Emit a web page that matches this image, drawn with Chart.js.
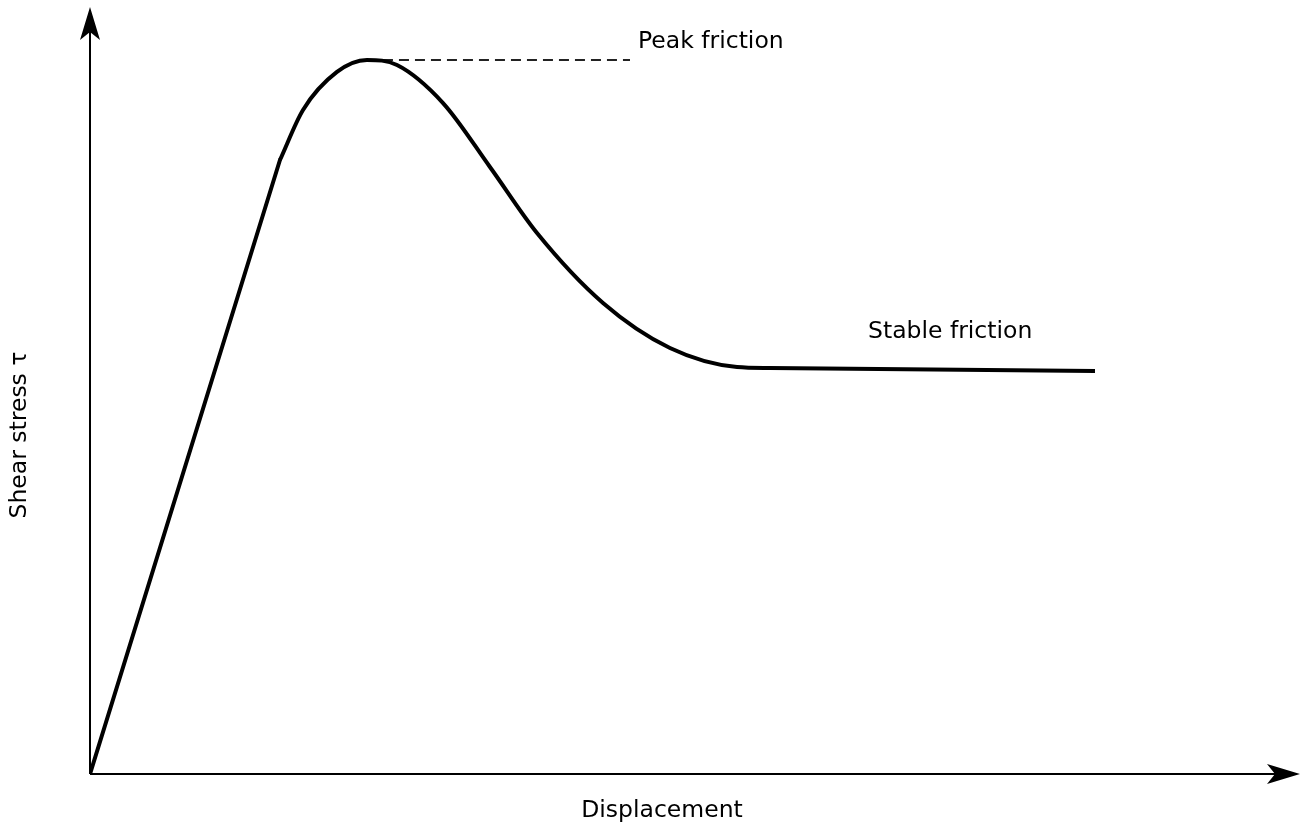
<!DOCTYPE html>
<html>
<head>
<meta charset="utf-8">
<script src="https://cdn.jsdelivr.net/npm/chart.js@4"></script>
<style>
  html, body { margin: 0; padding: 0; background: #fff; }
  #wrap { width: 1309px; height: 830px; position: relative; }
</style>
</head>
<body>
<div id="wrap"><canvas id="myChart"></canvas></div>
<script>
const ctx = document.getElementById("myChart").getContext("2d");

// elastic rise (straight part)
const riseX = [0, 15.83];
const riseY = [0, 80.05];

// peak and decay to stable friction
const curveX = [15.83, 17.75, 20.58, 23.08, 25.58, 29.42, 33.33, 37.25, 42.75, 48.33, 53.92, 56.67, 83.75];
const curveY = [80.05, 86.57, 91.53, 93.09, 92.44, 87.48, 79.14, 70.53, 61.41, 55.54, 53.06, 52.93, 52.54];

// dashed peak level
const peakX = [23.08, 45];
const peakY = [93.09, 93.09];

const xTitle = "Displacement";
const yTitle = "Shear stress τ";
const peakLabel = "Peak friction";
const stableLabel = "Stable friction";

const toPoints = (xs, ys) => xs.map((x, i) => ({ x: x, y: ys[i] }));

const FONT = "23.5px 'DejaVu Sans'";

// axes with arrow heads + text labels
const sketchPlugin = {
    id: "sketch",
    beforeDatasetsDraw(chart) {
        const c = chart.ctx;
        const x = chart.scales.x, y = chart.scales.y;
        const ox = x.getPixelForValue(0), oy = y.getPixelForValue(0);
        const tipX = chart.chartArea.right + 10;
        const tipY = chart.chartArea.top;
        c.save();
        c.strokeStyle = "#000";
        c.fillStyle = "#000";
        c.lineWidth = 2;
        c.beginPath();
        c.moveTo(ox, oy);
        c.lineTo(tipX - 20, oy);
        c.moveTo(ox, oy);
        c.lineTo(ox, tipY + 20);
        c.stroke();
        // x arrow
        c.beginPath();
        c.moveTo(tipX, oy);
        c.lineTo(tipX - 33, oy - 10);
        c.lineTo(tipX - 25, oy);
        c.lineTo(tipX - 33, oy + 10);
        c.closePath();
        c.fill();
        // y arrow
        c.beginPath();
        c.moveTo(ox, tipY);
        c.lineTo(ox - 10, tipY + 33);
        c.lineTo(ox, tipY + 25);
        c.lineTo(ox + 10, tipY + 33);
        c.closePath();
        c.fill();
        c.restore();
    },
    afterDraw(chart) {
        const c = chart.ctx;
        const x = chart.scales.x, y = chart.scales.y;
        c.save();
        c.fillStyle = "#000";
        c.font = FONT;
        c.textBaseline = "alphabetic";
        c.textAlign = "left";
        c.fillText(peakLabel, x.getPixelForValue(peakX[1]) + 8, y.getPixelForValue(peakY[1]) - 12);
        c.fillText(stableLabel, 868, 338);
        c.textAlign = "center";
        c.fillText(xTitle, 662, 817);
        c.translate(26, 435);
        c.rotate(-Math.PI / 2);
        c.fillText(yTitle, 0, 0);
        c.restore();
    }
};

const data = {
    datasets: [
        {
            data: toPoints(riseX, riseY),
            borderColor: "#000",
            borderWidth: 4,
            tension: 0,
            pointRadius: 0,
            borderCapStyle: "round",
        },
        {
            data: toPoints(curveX, curveY),
            borderColor: "#000",
            borderWidth: 4,
            cubicInterpolationMode: "monotone",
            pointRadius: 0,
            borderCapStyle: "butt",
            borderJoinStyle: "round",
        },
        {
            data: toPoints(peakX, peakY),
            borderColor: "#222",
            borderWidth: 2,
            borderDash: [10, 6],
            tension: 0,
            pointRadius: 0,
        },
    ],
};

const config = {
    type: "line",
    data: data,
    options: {
        responsive: true,
        maintainAspectRatio: false,
        animation: false,
        layout: {
            padding: { left: 90, right: 19, top: 7, bottom: 56 },
        },
        plugins: {
            legend: { display: false },
            tooltip: { enabled: false },
        },
        scales: {
            x: { type: "linear", min: 0, max: 100, display: false },
            y: { type: "linear", min: 0, max: 100, display: false },
        },
    },
    plugins: [sketchPlugin],
};

const myChart = new Chart(ctx, config);
</script>
</body>
</html>
